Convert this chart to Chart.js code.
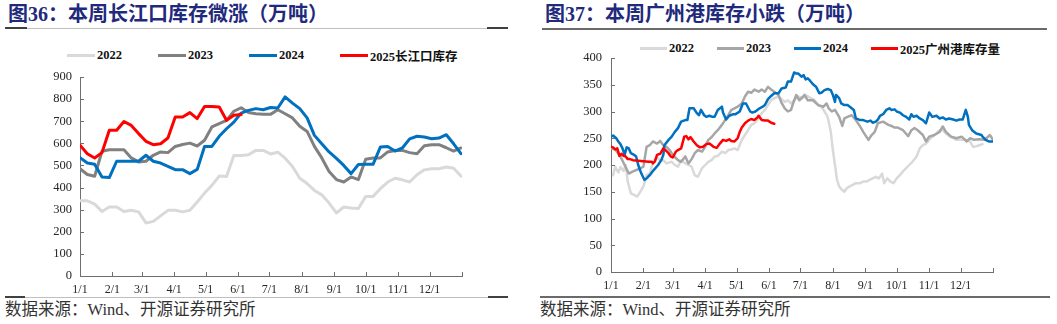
<!DOCTYPE html>
<html lang="zh-CN">
<head>
<meta charset="utf-8">
<title>长江口与广州港库存</title>
<script src="https://cdn.jsdelivr.net/npm/chart.js@4.4.1/dist/chart.umd.min.js"></script>
<style>
  html, body { margin: 0; padding: 0; background: #fff; }
  body { position: relative; width: 1057px; height: 324px; overflow: hidden;
         font-family: "Liberation Serif", "Noto Sans CJK SC", serif; color: #222; }
  .title { position: absolute; top: 3px; font-weight: bold; font-size: 20px; line-height: 22px;
           color: #1f2a7c; white-space: nowrap; }
  .rule { position: absolute; }
  .legend { position: absolute; display: flex; align-items: center; height: 16px;
            font-weight: bold; font-size: 12.5px; color: #111; white-space: nowrap; }
  .legend .item { display: flex; align-items: center; }
  .legend i { display: inline-block; height: 3px; margin-right: 2px; }
  .source { position: absolute; top: 301px; font-size: 16.5px; line-height: 18px; color: #333; white-space: nowrap; }
  canvas { position: absolute; }
</style>
</head>
<body>
<div class="title" style="left:8px">图36：本周长江口库存微涨（万吨）</div>
<div class="title" style="left:545px">图37：本周广州港库存小跌（万吨）</div>

<div class="rule" style="left:5px;top:28px;width:503px;height:1px;background:#bfbfbf"></div>
<div class="rule" style="left:5px;top:27px;width:22px;height:2px;background:#404040"></div>
<div class="rule" style="left:487px;top:27px;width:21px;height:2px;background:#404040"></div>
<div class="rule" style="left:542px;top:28px;width:505px;height:2px;background:#6a6a6a"></div>

<div class="legend" id="legendCj" style="left:67px;top:47px;gap:36px"></div>
<div class="legend" id="legendGz" style="left:640px;top:40px;gap:23px"></div>

<canvas id="cjChart" width="520" height="258" style="left:0;top:40px"></canvas>
<canvas id="gzChart" width="527" height="258" style="left:530px;top:40px"></canvas>

<div class="rule" style="left:5px;top:297px;width:503px;height:1px;background:#bfbfbf"></div>
<div class="rule" style="left:5px;top:296px;width:20px;height:2px;background:#404040"></div>
<div class="rule" style="left:488px;top:296px;width:20px;height:2px;background:#404040"></div>
<div class="rule" style="left:540px;top:296px;width:510px;height:2px;background:#6a6a6a"></div>

<div class="source" style="left:5px">数据来源：Wind、开源证券研究所</div>
<div class="source" style="left:540px">数据来源：Wind、开源证券研究所</div>

<script>
// x axis: day of year, ticks at month starts
const tickDays = [0, 31, 59, 90, 120, 151, 181, 212, 243, 273, 304, 334, 365];
const tickLabels = ['1/1', '2/1', '3/1', '4/1', '5/1', '6/1', '7/1', '8/1', '9/1', '10/1', '11/1', '12/1'];

// 长江口库存 (weekly)
const cjNames = ['2022', '2023', '2024', '2025长江口库存'];
const cjColors = ['#D9D9D9', '#808080', '#0070C0', '#FF0000'];
const weekDays = [0, 7, 14, 21, 28, 35, 42, 49, 56, 63, 70, 77, 84, 91, 98, 105, 112, 119, 126, 133, 140, 147, 154,
  161, 168, 175, 182, 189, 196, 203, 210, 217, 224, 231, 238, 245, 252, 259, 266, 273, 280, 287, 294, 301, 308,
  315, 322, 329, 336, 343, 350, 357, 364];
const cj2022 = [340, 340, 325, 292, 312, 312, 292, 297, 290, 240, 247, 272, 297, 297, 290, 297, 335, 375, 410, 452,
  450, 545, 545, 548, 568, 568, 552, 560, 533, 495, 442, 418, 387, 367, 330, 285, 312, 308, 305, 360, 360, 395,
  425, 442, 435, 425, 458, 480, 485, 485, 493, 487, 452];
const cj2023 = [485, 459, 451, 564, 571, 571, 571, 534, 516, 519, 546, 561, 558, 586, 595, 601, 588, 614, 674, 689,
  704, 745, 761, 739, 734, 731, 731, 752, 734, 715, 677, 654, 586, 534, 473, 436, 425, 448, 436, 528, 534, 534,
  561, 568, 568, 558, 553, 589, 594, 594, 580, 565, 579];
const cj2024 = [535, 511, 505, 448, 445, 519, 519, 519, 519, 546, 519, 511, 496, 481, 481, 463, 482, 586, 586, 632,
  666, 696, 737, 749, 757, 752, 762, 760, 810, 782, 757, 715, 636, 598, 561, 532, 500, 463, 504, 505, 505, 583,
  586, 565, 579, 620, 632, 629, 621, 624, 639, 598, 553];
const cj2025 = [591, 553, 534, 558, 659, 659, 699, 681, 644, 609, 594, 598, 624, 719, 719, 739, 712, 767, 767, 764,
  704, 727, 730];

// 广州港库存 (daily, sampled)
const gzNames = ['2022', '2023', '2024', '2025广州港库存量'];
const gzColors = ['#D9D9D9', '#A6A6A6', '#0070C0', '#FF0000'];
const gzDays22 = [2, 4, 7, 9, 12, 14, 16, 19, 22, 25, 28, 31, 34, 37, 40, 44, 47, 50, 53, 58, 61, 64, 67, 71, 74, 77,
  80, 83, 87, 90, 93, 96, 99, 102, 106, 109, 112, 115, 118, 121, 125, 128, 131, 134, 137, 141, 144, 147, 150, 153,
  156, 160, 163, 166, 169, 172, 176, 179, 183, 187, 190, 194, 198, 201, 204, 207, 210, 212, 214, 216, 218, 220,
  223, 225, 228, 231, 234, 238, 241, 244, 247, 250, 253, 256, 259, 261, 264, 267, 270, 273, 276, 279, 282, 285,
  288, 292, 295, 298, 301, 304, 307, 311, 314, 317, 320, 324, 327, 330, 333, 336, 339, 343, 346, 349, 352, 355];
const gz22 = [181, 197, 186, 196, 189, 200, 169, 147, 144, 141, 150, 160, 181, 184, 205, 215, 208, 209, 203, 206,
  200, 197, 209, 203, 200, 197, 181, 178, 194, 200, 206, 209, 216, 217, 225, 222, 228, 229, 231, 228, 247, 256,
  265, 275, 278, 287, 297, 303, 312, 321, 325, 328, 323, 318, 321, 315, 323, 328, 325, 330, 326, 322, 312, 309,
  300, 290, 262, 228, 200, 172, 160, 155, 150, 156, 160, 163, 166, 166, 169, 169, 172, 175, 178, 175, 184, 166,
  175, 169, 166, 175, 181, 188, 194, 200, 206, 216, 231, 237, 240, 247, 253, 259, 265, 265, 259, 253, 250, 247,
  247, 247, 247, 244, 234, 235, 237, 239];
const gzDays23 = [0, 4, 9, 13, 17, 21, 26, 31, 34, 37, 40, 44, 47, 50, 53, 56, 59, 64, 67, 71, 74, 77, 80, 83, 87, 90,
  93, 96, 99, 102, 106, 109, 112, 115, 118, 121, 125, 128, 131, 134, 137, 141, 144, 147, 150, 153, 156, 160, 163,
  166, 169, 172, 174, 177, 180, 185, 188, 193, 198, 203, 206, 208, 211, 214, 218, 221, 223, 226, 230, 234, 238,
  241, 246, 249, 252, 255, 260, 265, 268, 271, 274, 279, 284, 287, 290, 293, 298, 301, 304, 309, 314, 317, 320,
  325, 330, 335, 340, 343, 347, 352, 357, 362, 365];
const gz23 = [231, 229, 216, 200, 184, 188, 192, 197, 234, 237, 244, 240, 245, 237, 234, 228, 219, 209, 206, 216,
  203, 211, 222, 228, 225, 234, 247, 252, 259, 265, 275, 284, 293, 303, 306, 309, 315, 328, 337, 335, 341, 337,
  341, 337, 346, 341, 337, 331, 316, 306, 300, 303, 315, 331, 321, 331, 321, 321, 312, 309, 315, 306, 300, 303,
  290, 273, 287, 290, 293, 284, 272, 262, 247, 256, 262, 278, 281, 275, 273, 270, 270, 265, 254, 265, 269, 265,
  256, 244, 253, 256, 262, 272, 262, 253, 250, 253, 244, 250, 247, 248, 247, 256, 247];
const gzDays24 = [0, 2, 5, 7, 9, 11, 13, 15, 17, 19, 22, 24, 26, 29, 32, 34, 37, 41, 45, 48, 50, 51, 55, 58, 61, 64,
  67, 71, 73, 75, 79, 80, 82, 84, 86, 89, 91, 94, 97, 99, 102, 106, 107, 110, 113, 117, 119, 123, 126, 129, 133,
  135, 138, 142, 145, 147, 150, 153, 156, 160, 163, 167, 169, 172, 175, 177, 179, 182, 184, 186, 188, 190, 193,
  196, 199, 201, 204, 207, 210, 212, 214, 215, 218, 220, 223, 226, 230, 232, 234, 238, 241, 245, 248, 250, 253,
  255, 257, 260, 263, 266, 268, 271, 273, 276, 279, 282, 285, 287, 289, 292, 295, 298, 301, 304, 307, 311, 314,
  317, 320, 323, 327, 330, 333, 336, 339, 341, 342, 345, 349, 354, 355, 358, 361, 365];
const gz24 = [253, 255, 250, 244, 239, 231, 219, 233, 231, 222, 219, 216, 200, 184, 172, 175, 181, 191, 200, 209,
  219, 237, 247, 253, 262, 269, 281, 284, 284, 306, 306, 303, 297, 293, 303, 293, 290, 292, 290, 290, 303, 309,
  298, 285, 292, 295, 295, 300, 315, 315, 300, 298, 300, 306, 309, 312, 323, 329, 334, 334, 343, 345, 356, 356,
  373, 371, 371, 365, 368, 360, 362, 358, 351, 346, 334, 335, 340, 342, 340, 331, 318, 331, 325, 315, 312, 312,
  306, 303, 287, 284, 284, 281, 283, 279, 281, 285, 292, 295, 303, 306, 303, 304, 300, 298, 293, 290, 285, 295,
  290, 292, 287, 284, 278, 298, 290, 292, 287, 289, 285, 287, 285, 283, 285, 285, 303, 290, 275, 265, 259, 256,
  253, 247, 244, 244];
const gzDays25 = [0, 2, 4, 6, 8, 10, 12, 14, 16, 18, 21, 26, 31, 36, 39, 40, 42, 44, 47, 50, 52, 55, 57, 59, 62, 64,
  67, 70, 72, 74, 76, 79, 82, 85, 88, 91, 94, 98, 101, 104, 107, 110, 113, 115, 118, 121, 123, 125, 128, 131, 134,
  137, 140, 141, 144, 147, 150, 153, 156];
const gz25 = [234, 233, 229, 231, 217, 221, 217, 216, 211, 211, 209, 208, 207, 206, 206, 203, 207, 219, 221, 231,
  228, 222, 216, 214, 225, 228, 231, 253, 254, 248, 252, 244, 237, 233, 234, 239, 240, 234, 232, 240, 247, 245,
  248, 245, 244, 250, 262, 270, 278, 283, 286, 284, 289, 292, 284, 283, 283, 279, 277];

const axisColor = '#6f6f6f';
const labelColor = '#262626';

const pts = (xs, ys) => ys.map((v, i) => ({ x: xs[i], y: v }));

// short tick marks pointing into the plot area
const innerTicks = {
  id: 'innerTicks',
  afterDraw(chart) {
    const { ctx, chartArea: a, scales: { x, y } } = chart;
    ctx.save();
    ctx.strokeStyle = axisColor;
    ctx.lineWidth = 1;
    ctx.beginPath();
    x.ticks.forEach(t => {
      const px = Math.round(x.getPixelForValue(t.value)) + 0.5;
      ctx.moveTo(px, a.bottom);
      ctx.lineTo(px, a.bottom - 4);
    });
    y.ticks.forEach(t => {
      const py = Math.round(y.getPixelForValue(t.value)) + 0.5;
      ctx.moveTo(a.left, py);
      ctx.lineTo(a.left + 4, py);
    });
    ctx.stroke();
    ctx.restore();
  }
};

const makeChart = (id, datasets, yMax, yStep, g) => new Chart(document.getElementById(id), {
  type: 'line',
  data: { datasets },
  options: {
    responsive: false,
    animation: false,
    layout: { padding: { top: g.top, right: g.right, left: 0, bottom: 0 } },
    plugins: { legend: { display: false }, tooltip: { enabled: false } },
    elements: {
      point: { radius: 0 },
      line: { tension: 0, borderJoinStyle: 'round', borderCapStyle: 'round' }
    },
    scales: {
      x: {
        type: 'linear', min: 0, max: 365,
        grid: { display: false, drawTicks: false },
        border: { display: true, color: axisColor, width: 1 },
        afterBuildTicks: s => { s.ticks = tickDays.map(v => ({ value: v })); },
        afterFit: s => { s.height = g.xH; },
        ticks: {
          autoSkip: false, maxRotation: 0, padding: 7, color: labelColor,
          font: { family: 'Liberation Serif', size: 12 },
          callback: (v, i) => tickLabels[i] || ''
        }
      },
      y: {
        min: 0, max: yMax,
        grid: { display: false, drawTicks: false },
        border: { display: true, color: axisColor, width: 1 },
        afterFit: s => { s.width = g.yW; },
        ticks: {
          stepSize: yStep, padding: g.yPad, color: labelColor,
          font: { family: 'Liberation Serif', size: 12.5 }
        }
      }
    }
  },
  plugins: [innerTicks]
});

const buildLegend = (el, names, colors, lineW) => {
  names.forEach((name, i) => {
    const item = document.createElement('span');
    item.className = 'item';
    item.innerHTML = `<i style="background:${colors[i]};width:${lineW}px"></i>${name}`;
    el.appendChild(item);
  });
};

// 图36 长江口库存
const cjData = [cj2022, cj2023, cj2024, cj2025];
makeChart('cjChart', cjData.map((arr, i) => ({
  label: cjNames[i],
  data: pts(weekDays, arr),
  borderColor: cjColors[i],
  borderWidth: 3,
  order: 4 - i
})), 900, 100, { top: 37, right: 58, xH: 22, yW: 80, yPad: 8 });
buildLegend(document.getElementById('legendCj'), cjNames, cjColors, 28);

// 图37 广州港库存
const gzData = [[gzDays22, gz22], [gzDays23, gz23], [gzDays24, gz24], [gzDays25, gz25]];
makeChart('gzChart', gzData.map(([xs, ys], i) => ({
  label: gzNames[i],
  data: pts(xs, ys),
  borderColor: gzColors[i],
  borderWidth: 2.5,
  order: 4 - i
})), 400, 50, { top: 18, right: 64, xH: 26, yW: 81, yPad: 9 });
buildLegend(document.getElementById('legendGz'), gzNames, gzColors, 27);
</script>
</body>
</html>
